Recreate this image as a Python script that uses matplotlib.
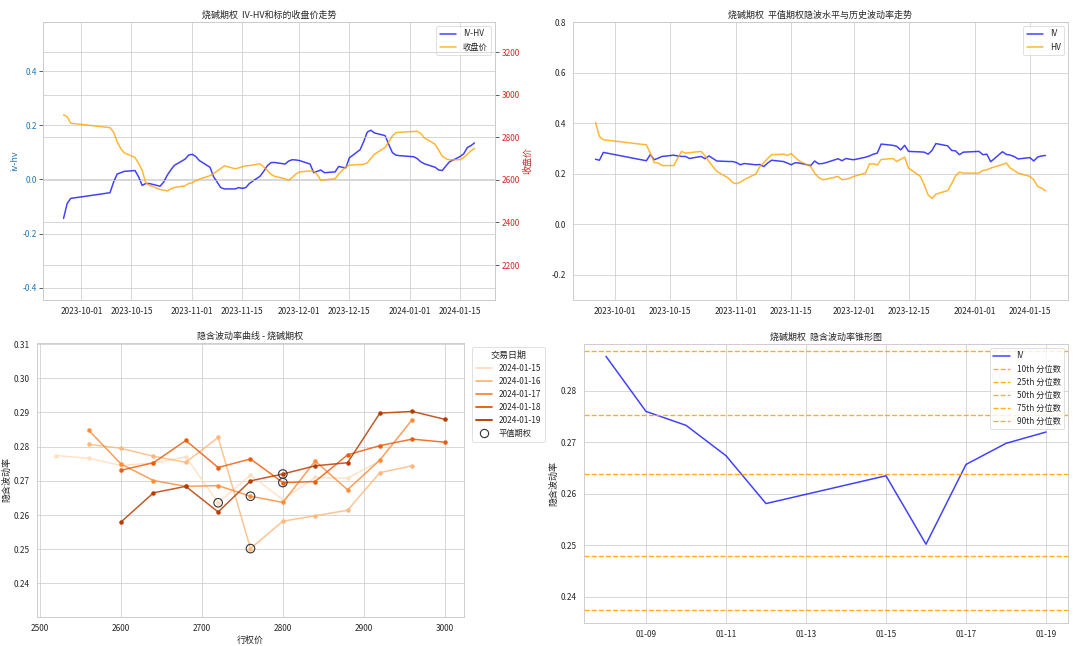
import matplotlib
matplotlib.use("Agg")
import matplotlib.pyplot as plt
import matplotlib.dates as mdates
from matplotlib.lines import Line2D
import pandas as pd
import seaborn as sns

# trading days (China futures calendar, National Day + New Year closed)
holidays = ['2023-09-29', '2023-10-02', '2023-10-03', '2023-10-04',
            '2023-10-05', '2023-10-06', '2024-01-01']
trade_dates = pd.bdate_range('2023-09-26', '2024-01-19', freq='C', holidays=holidays)

iv_hv = [-0.144, -0.089, -0.070,
         -0.049, -0.010, 0.020, 0.025, 0.030,
         0.033, 0.010, -0.022, -0.015, -0.015,
         -0.025, -0.010, 0.015, 0.035, 0.052,
         0.075, 0.090,
         0.093, 0.085, 0.070,
         0.045, 0.010, -0.010, -0.030, -0.035,
         -0.035, -0.030, -0.033, -0.030, -0.015,
         0.012, 0.030, 0.050, 0.062, 0.063,
         0.057, 0.068, 0.073, 0.072,
         0.070,
         0.057, 0.025, 0.030, 0.035, 0.025,
         0.028, 0.048, 0.045, 0.043, 0.080,
         0.110, 0.140, 0.175, 0.182, 0.172,
         0.162, 0.130, 0.100, 0.090, 0.088,
         0.084, 0.077, 0.065, 0.058,
         0.045, 0.035, 0.033, 0.050, 0.065,
         0.085, 0.095, 0.118, 0.125, 0.135]

close = [2905, 2897, 2866,
         2845, 2825, 2778, 2747, 2727,
         2705, 2677, 2645, 2586, 2575,
         2555, 2552, 2548, 2558, 2564,
         2572, 2583,
         2586, 2597, 2603,
         2620, 2630, 2642, 2653, 2666,
         2652, 2656, 2661, 2666, 2667,
         2675, 2661, 2645, 2627, 2617,
         2605, 2598, 2611, 2627,
         2637,
         2642, 2641, 2625, 2598, 2600,
         2605, 2627, 2645, 2661, 2669,
         2672, 2673, 2680, 2700, 2720,
         2752, 2778, 2805, 2822, 2823,
         2827, 2828, 2817, 2797,
         2767, 2739, 2711, 2700, 2694,
         2695, 2705, 2720, 2736, 2748]

iv = [0.257, 0.253, 0.284,
      0.251, 0.275, 0.255, 0.261, 0.268,
      0.273, 0.270, 0.268, 0.268, 0.260,
      0.268, 0.259, 0.270, 0.260, 0.250,
      0.248, 0.248,
      0.244, 0.235, 0.240,
      0.235, 0.236, 0.228, 0.242, 0.253,
      0.248, 0.242, 0.235, 0.243, 0.242,
      0.232, 0.250, 0.239, 0.240, 0.244,
      0.259, 0.251, 0.260, 0.257,
      0.255,
      0.265, 0.270, 0.277, 0.281, 0.317,
      0.312, 0.308, 0.294, 0.312, 0.288,
      0.286, 0.285, 0.277, 0.292, 0.319,
      0.310, 0.292, 0.290, 0.275, 0.285,
      0.288, 0.275, 0.277, 0.247,
      0.2867, 0.2760, 0.2733, 0.2674, 0.2581,
      0.2635, 0.2502, 0.2657, 0.2698, 0.2720]

hv = [0.403, 0.347, 0.334,
      0.314, 0.281, 0.244, 0.242, 0.232,
      0.232, 0.261, 0.288, 0.281, 0.283,
      0.288, 0.270, 0.248, 0.228, 0.209,
      0.182, 0.165,
      0.160, 0.166, 0.176,
      0.199, 0.228, 0.244, 0.260, 0.275,
      0.277, 0.272, 0.279, 0.265, 0.251,
      0.228, 0.202, 0.185, 0.176, 0.178,
      0.189, 0.176, 0.178, 0.182,
      0.189,
      0.202, 0.238, 0.239, 0.234, 0.256,
      0.260, 0.248, 0.257, 0.265, 0.222,
      0.189, 0.156, 0.116, 0.102, 0.119,
      0.133, 0.160, 0.191, 0.206, 0.202,
      0.202, 0.213, 0.215, 0.222,
      0.236, 0.242, 0.222, 0.213, 0.202,
      0.189, 0.176, 0.149, 0.143, 0.132]

# smile data for last 5 trading days
smile_dates = ['2024-01-15', '2024-01-16', '2024-01-17', '2024-01-18', '2024-01-19']
strikes_0115 = [2520, 2560, 2600, 2640, 2680, 2720, 2760, 2800, 2840, 2880, 2920]
strikes_0116 = [2560, 2600, 2640, 2680, 2720, 2760, 2800, 2840, 2880, 2920, 2960]
strikes_0117 = [2560, 2600, 2640, 2680, 2720, 2760, 2800, 2840, 2880, 2920, 2960]
strikes_0118 = [2600, 2640, 2680, 2720, 2760, 2800, 2840, 2880, 2920, 2960, 3000]
strikes_0119 = [2600, 2640, 2680, 2720, 2760, 2800, 2840, 2880, 2920, 2960, 3000]
iv_0115 = [0.2774, 0.2766, 0.2745, 0.2752, 0.2770, 0.2636, 0.2717, 0.2645, 0.2710, 0.2708, 0.2758]
iv_0116 = [0.2807, 0.2795, 0.2772, 0.2754, 0.2827, 0.2502, 0.2582, 0.2598, 0.2614, 0.2724, 0.2744]
iv_0117 = [0.2848, 0.2749, 0.2701, 0.2684, 0.2686, 0.2655, 0.2637, 0.2758, 0.2674, 0.2761, 0.2879]
iv_0118 = [0.2731, 0.2753, 0.2818, 0.2739, 0.2764, 0.2695, 0.2698, 0.2776, 0.2803, 0.2822, 0.2813]
iv_0119 = [0.2580, 0.2665, 0.2684, 0.2609, 0.2700, 0.2720, 0.2744, 0.2753, 0.2898, 0.2903, 0.2880]
atm_strikes = [2720, 2760, 2760, 2800, 2800]
atm_iv = [0.2636, 0.2502, 0.2655, 0.2695, 0.2720]

quantile_pct = [10, 25, 50, 75, 90]
quantile_iv = [0.2375, 0.2479, 0.2638, 0.2753, 0.2878]

sns.set_theme(style='whitegrid')
plt.rcParams['font.family'] = ['Noto Sans CJK SC', 'DejaVu Sans']
plt.rcParams['axes.unicode_minus'] = False

fig = plt.figure(figsize=(20, 646 / 54), dpi=54)
W, H = 1080, 646

def place(l, t, r, b):
    return fig.add_axes([l / W, 1 - b / H, (r - l) / W, (b - t) / H])

# --- top left: IV-HV vs close
ax1 = place(43, 22, 495, 300)
l1, = ax1.plot(trade_dates, iv_hv, color='blue', alpha=0.75, lw=2, label='IV-HV')
ax1.set_ylabel('iv-hv', color='tab:blue')
ax1.tick_params(axis='y', labelcolor='tab:blue', left=True, length=5, width=1.2, color='.3')
ax1.set_ylim(-0.4455, 0.582)
ax1b = ax1.twinx()
l2, = ax1b.plot(trade_dates, close, color='orange', alpha=0.8, lw=2, label='收盘价')
ax1b.set_ylabel('收盘价', color='tab:red')
ax1b.tick_params(axis='y', labelcolor='tab:red', right=True, length=5, width=1.2, color='.3')
ax1b.set_ylim(2036, 3341)
ax1.xaxis.set_major_locator(mdates.DayLocator(bymonthday=[1, 15]))
ax1.xaxis.set_major_formatter(mdates.DateFormatter('%Y-%m-%d'))
ax1.set_title('烧碱期权  IV-HV和标的收盘价走势')
ax1.legend(handles=[l1, l2], loc='upper right')

# --- top right: ATM IV vs HV
ax2 = place(573, 22, 1068, 300)
ax2.plot(trade_dates, iv, color='blue', alpha=0.75, lw=2, label='IV')
ax2.plot(trade_dates, hv, color='orange', alpha=0.8, lw=2, label='HV')
ax2.set_ylim(-0.3, 0.8)
ax2.xaxis.set_major_locator(mdates.DayLocator(bymonthday=[1, 15]))
ax2.xaxis.set_major_formatter(mdates.DateFormatter('%Y-%m-%d'))
ax2.set_title('烧碱期权  平值期权隐波水平与历史波动率走势')
ax2.legend(loc='upper right')

# --- bottom left: volatility smile
ax3 = place(37, 343, 464, 617)
palette = sns.color_palette('Oranges', len(smile_dates))
smile_strikes = [strikes_0115, strikes_0116, strikes_0117, strikes_0118, strikes_0119]
smile_ivs = [iv_0115, iv_0116, iv_0117, iv_0118, iv_0119]
handles = []
for d, xs, ys, c in zip(smile_dates, smile_strikes, smile_ivs, palette):
    ax3.plot(xs, ys, color=c, lw=2, alpha=0.85)
    ax3.plot(xs, ys, 'o', color=c, ms=6, mec='none')
    handles.append(Line2D([], [], color=c, lw=2.5, label=d))
ax3.scatter(atm_strikes, atm_iv, s=130, facecolors='none', edgecolors='#333333',
            linewidths=1.5, zorder=5)
handles.append(Line2D([], [], ls='none', marker='o', ms=11, mfc='none', mec='#333333',
                      mew=1.5, label='平值期权'))
ax3.set_ylim(0.2302, 0.3103)
ax3.set_xlabel('行权价')
ax3.set_ylabel('隐含波动率')
ax3.set_title('隐含波动率曲线 - 烧碱期权')
ax3.legend(handles=handles, title='交易日期', loc='upper left', bbox_to_anchor=(1.01, 1))

# --- bottom right: IV cone
ax4 = place(584, 344, 1068, 623)
cone_dates = trade_dates[-10:]
ax4.plot(cone_dates, iv[-10:], color='blue', alpha=0.75, lw=2, label='IV')
for p, q in zip(quantile_pct, quantile_iv):
    ax4.axhline(q, color='orange', ls='--', lw=1.8, alpha=0.9, label=f'{p}th 分位数')
ax4.set_ylim(0.2349, 0.2891)
ax4.xaxis.set_major_locator(mdates.DayLocator(bymonthday=[9, 11, 13, 15, 17, 19]))
ax4.xaxis.set_major_formatter(mdates.DateFormatter('%m-%d'))
ax4.set_ylabel('隐含波动率')
ax4.set_title('烧碱期权  隐含波动率锥形图')
ax4.legend(loc='upper right')

fig.savefig('out.png', dpi=54)
